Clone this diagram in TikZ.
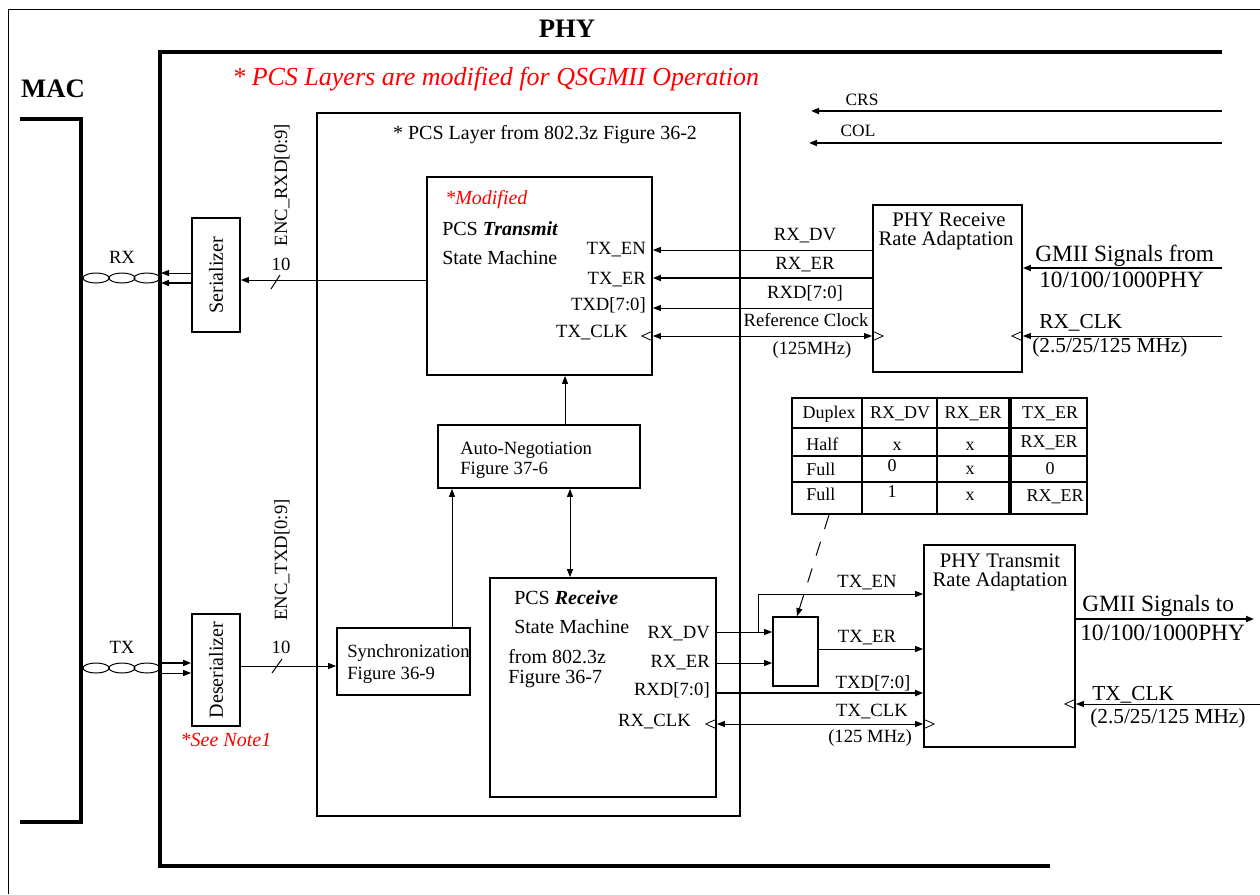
\documentclass[tikz,border=0pt]{standalone}
\usepackage{fontspec}
\setmainfont{Liberation Serif}
\usetikzlibrary{arrows.meta,fit,calc}
\newcommand\fsz[1]{\fontsize{#1}{#1}\selectfont}
\definecolor{notered}{RGB}{255,0,0}
\begin{document}
\begin{tikzpicture}[x=0.75pt,y=-0.75pt,
  box/.style={draw,line width=1.3pt,inner sep=0pt},
  tipS/.style={-{Triangle[length=6pt,width=4.5pt]}},
  arr/.style={tipS,line width=0.75pt},
  arrb/.style={tipS,line width=1.3pt},
  darr/.style={{Triangle[length=6pt,width=4.5pt]}-{Triangle[length=6pt,width=4.5pt]},line width=0.75pt},
  lb/.style={inner sep=0pt,font=\fsz{14}},
  lbt/.style={inner sep=0pt,font=\fsz{15}},
  lbr/.style={inner sep=0pt,font=\fsz{15.5}},
  lbg/.style={inner sep=0pt,font=\fsz{17.5}},
  lbc/.style={inner sep=0pt,font=\fsz{16}},
  red/.style={text=notered,font=\fsz{15}\itshape},
  heavy/.style={line width=3pt},
  grid/.style={line width=1.4pt},
  clkL/.pic={\draw[line width=0.6pt] (0,-5) -- (-11,0) -- (0,5);},
  clkR/.pic={\draw[line width=0.6pt] (0,-5) -- (11,0) -- (0,5);}
]
\useasboundingbox (0,0) rectangle (1260,894);
% outer frame
\draw[line width=0.75pt] (8,894) -- (8,9) -- (1260,9);
% PHY frame
\node[inner sep=0pt,font=\fsz{20}\bfseries] (phy) at (567,29) {PHY};
\draw[heavy] (1222,52) -- (160,52) -- (160,866) -- (1050,866);
% MAC
\node[inner sep=0pt,font=\fsz{20}\bfseries] (mac) at (53,89) {MAC};
\draw[heavy] (20,119) -- (81,119) -- (81,822) -- (20,822);
% red title
\node[inner sep=0pt,anchor=west,text=notered,font=\fsz{19.5}\itshape] (title) at (232,79) {* PCS Layers are modified for QSGMII Operation};
% CRS / COL
\coordinate (crsR) at (1222,111); \coordinate (crsL) at (811,111);
\coordinate (colR) at (1222,143); \coordinate (colL) at (809,143);
\draw[arrb] (crsR) -- (crsL);
\draw[arrb] (colR) -- (colL);
\node[inner sep=0pt,font=\fsz{13}] (crs) at (862,100) {CRS};
\node[inner sep=0pt,font=\fsz{13}] (col) at (858,131) {COL};
% boxes
\node[box,fit={(317,113)(740,816)}] (pcs) {};
\node[box,fit={(427,177)(652,375)}] (txsm) {};
\node[box,fit={(873,205)(1022,372)}] (rra) {};
\node[box,fit={(192,218)(240,332)}] (ser) {};
\node[box,fit={(192,614)(240,726)}] (des) {};
\node[box,fit={(337,628)(470,695)}] (sync) {};
\node[box,fit={(438,425)(640,488)}] (an) {};
\node[box,fit={(490,578)(716,797)}] (rxsm) {};
\node[box,fit={(773,617)(818,686)}] (mux) {};
\node[box,fit={(924,545)(1075,747)}] (tra) {};
% box texts
\node[lbt] (pcst) at (545,135) {* PCS Layer from 802.3z Figure 36-2};
\node[red,inner sep=0pt,anchor=west] (modf) at (445,200) {*Modified};
\node[lbt,anchor=west] (txt1) at (442,229) {PCS \textbf{\textit{Transmit}}};
\node[lbt,anchor=west] (txt2) at (442,258) {State Machine};
\node[lb,anchor=east] (txen) at (646,250) {TX\_EN};
\node[lb,anchor=east] (txer) at (646,280) {TX\_ER};
\node[lb,anchor=east] (txd) at (646,305) {TXD[7:0]};
\node[lb,anchor=east] (txclk) at (628,333) {TX\_CLK};
\node[lbr] (rra1) at (949,220) {PHY Receive};
\node[lbr] (rra2) at (946,241) {Rate Adaptation};
\node[lbt,rotate=90] (sert) at (ser.center) {Serializer};
\node[lbt,rotate=90] (dest) at (des.center) {Deserializer};
\node[red,inner sep=0pt] (note) at (226,740) {*See Note1};
\node[lb,anchor=west] (sy1) at (347,653) {Synchronization};
\node[lb,anchor=west] (sy2) at (347,675) {Figure 36-9};
\node[lb,anchor=west] (an1) at (460,450) {Auto-Negotiation};
\node[lb,anchor=west] (an2) at (460,470) {Figure 37-6};
\node[lbt,anchor=west] (rx1) at (514,598) {PCS \textbf{\textit{Receive}}};
\node[lbt,anchor=west] (rx2) at (514,627) {State Machine};
\node[lbt,anchor=west] (rx3) at (508,657) {from 802.3z};
\node[lbt,anchor=west] (rx4) at (508,679) {Figure 36-7};
\node[lb,anchor=east] (rxdv) at (710,634) {RX\_DV};
\node[lb,anchor=east] (rxer) at (710,663) {RX\_ER};
\node[lb,anchor=east] (rxd) at (710,690) {RXD[7:0]};
\node[lb,anchor=east] (rxclk) at (691,722) {RX\_CLK};
\node[lbr] (tra1) at (1000,561) {PHY Transmit};
\node[lbr] (tra2) at (1000,582) {Rate Adaptation};
% levels
\coordinate (yEN) at (0,250); \coordinate (yER) at (0,278);
\coordinate (yTD) at (0,308); \coordinate (yCK) at (0,336);
\coordinate (yS) at (0,280); \coordinate (yR1) at (0,273); \coordinate (yR2) at (0,283);
\coordinate (yT1) at (0,663); \coordinate (yT2) at (0,673); \coordinate (yD) at (0,666);
\coordinate (phyL) at (161,0);
% transmit side connectors
\draw[arr] (rra.west |- yEN) -- (txsm.east |- yEN);
\draw[arrb] (rra.west |- yER) -- (txsm.east |- yER);
\draw[arr] (rra.west |- yTD) -- (txsm.east |- yTD);
\draw[darr] (txsm.east |- yCK) -- (rra.west |- yCK);
\pic at (txsm.east |- yCK) {clkL};
\pic at (rra.west |- yCK) {clkR};
\node[lb] (l1) at (805,236) {RX\_DV};
\node[lb] (l2) at (805,265) {RX\_ER};
\node[lb] (l3) at (805,293) {RXD[7:0]};
\node[lb] (l4) at (806,320) {Reference Clock};
\node[lb] (l5) at (812,350) {(125MHz)};
% GMII from
\coordinate (gfR) at (1222,268); \coordinate (rcR) at (1222,336);
\draw[arrb] (gfR) -- (rra.east |- gfR);
\draw[arr] (rcR) -- (rra.east |- rcR);
\pic at (rra.east |- rcR) {clkL};
\node[lbg,anchor=west] (gf1) at (1035,256) {GMII Signals from};
\node[lbg,anchor=west] (gf2) at (1039,280) {10/100/1000PHY};
\node[lbc,anchor=west] (rc1) at (1039,323) {RX\_CLK};
\node[lbc,anchor=west] (rc2) at (1032,347) {(2.5/25/125 MHz)};
% serializer
\draw[arr] (txsm.west |- yS) -- (ser.east |- yS);
\draw[line width=0.75pt] (271,289) -- (280,275);
\node[lb] (n10a) at (281,264) {10};
\node[lb,rotate=90] (encr) at (282,185) {ENC\_RXD[0:9]};
\draw[arr] (ser.west |- yR1) -- (phyL |- yR1);
\draw[arrb] (ser.west |- yR2) -- (phyL |- yR2);
\foreach \cx in {96,122,147} \draw[line width=0.75pt] (\cx,278) ellipse [x radius=13, y radius=5];
\node[lb] (rxl) at (122,257) {RX};
% deserializer
\draw[arrb] (phyL |- yT1) -- (des.west |- yT1);
\draw[arr] (phyL |- yT2) -- (des.west |- yT2);
\foreach \cx in {96,122,147} \draw[line width=0.75pt] (\cx,668) ellipse [x radius=13, y radius=5];
\node[lb] (txl) at (122,647) {TX};
\draw[arr] (des.east |- yD) -- (sync.west |- yD);
\draw[line width=0.75pt] (272,673) -- (282,659);
\node[lb] (n10b) at (281,647) {10};
\node[lb,rotate=90] (enct) at (282,560) {ENC\_TXD[0:9]};
% auto-negotiation connectors
\coordinate (xA) at (565,0); \coordinate (xB) at (452,0); \coordinate (xC) at (570,0);
\draw[arr] (an.north -| xA) -- (txsm.south -| xA);
\draw[arr] (sync.north -| xB) -- (an.south -| xB);
\draw[darr] (an.south -| xC) -- (rxsm.north -| xC);
% receive side connectors
\coordinate (yDV) at (0,632); \coordinate (yRE) at (0,663);
\coordinate (yTEN) at (0,594); \coordinate (yTER) at (0,649);
\coordinate (yTXD) at (0,693); \coordinate (yTCK) at (0,724);
\coordinate (br) at (758,632);
\draw[arr] (rxsm.east |- yDV) -- (mux.west |- yDV);
\draw[arr] (br) |- (tra.west |- yTEN);
\draw[arr] (rxsm.east |- yRE) -- (mux.west |- yRE);
\draw[arr] (mux.east |- yTER) -- (tra.west |- yTER);
\draw[arrb] (rxsm.east |- yTXD) -- (tra.west |- yTXD);
\draw[darr] (rxsm.east |- yTCK) -- (tra.west |- yTCK);
\pic at (rxsm.east |- yTCK) {clkL};
\pic at (tra.west |- yTCK) {clkR};
\node[lb] (m1) at (867,583) {TX\_EN};
\node[lb] (m2) at (867,638) {TX\_ER};
\node[lb] (m3) at (873,683) {TXD[7:0]};
\node[lb] (m4) at (872,712) {TX\_CLK};
\node[lb] (m5) at (870,738) {(125 MHz)};
% GMII to
\coordinate (gtR) at (1254,619); \coordinate (tcR) at (1260,704);
\draw[arrb] (tra.east |- gtR) -- (gtR);
\draw[arr] (tcR) -- (tra.east |- tcR);
\pic at (tra.east |- tcR) {clkL};
\node[lbg,anchor=west] (gt1) at (1082,606) {GMII Signals to};
\node[lbg,anchor=west] (gt2) at (1080,633) {10/100/1000PHY};
\node[lbc,anchor=west] (tc1) at (1092,695) {TX\_CLK};
\node[lbc,anchor=west] (tc2) at (1090,718) {(2.5/25/125 MHz)};
% table
\node[draw,line width=2pt,inner sep=0pt,fit={(792,398)(1087,514)}] (tbl) {};
\draw[grid] (862,398) -- (862,514);
\draw[grid] (937,398) -- (937,514);
\draw[line width=2.4pt] (1010,398) -- (1010,514);
\draw[grid] (792,428) -- (1087,428);
\draw[grid] (792,456) -- (1087,456);
\draw[grid] (792,482) -- (1087,482);
\node[inner sep=0pt,font=\fsz{13.5}] (h1) at (829,414) {Duplex};
\node[inner sep=0pt,font=\fsz{13.5}] (h2) at (900,414) {RX\_DV};
\node[inner sep=0pt,font=\fsz{13.5}] (h3) at (973,414) {RX\_ER};
\node[inner sep=0pt,font=\fsz{13.5}] (h4) at (1050,414) {TX\_ER};
\node[inner sep=0pt,font=\fsz{13.5},anchor=west] (r1a) at (806,444) {Half};
\node[inner sep=0pt,font=\fsz{13.5}] (r1b) at (897,446) {x};
\node[inner sep=0pt,font=\fsz{13.5}] (r1c) at (970,446) {x};
\node[inner sep=0pt,font=\fsz{13.5}] (r1d) at (1049,443) {RX\_ER};
\node[inner sep=0pt,font=\fsz{13.5},anchor=west] (r2a) at (806,469) {Full};
\node[inner sep=0pt,font=\fsz{13.5}] (r2b) at (892,466) {0};
\node[inner sep=0pt,font=\fsz{13.5}] (r2c) at (970,470) {x};
\node[inner sep=0pt,font=\fsz{13.5}] (r2d) at (1050,469) {0};
\node[inner sep=0pt,font=\fsz{13.5},anchor=west] (r3a) at (806,494) {Full};
\node[inner sep=0pt,font=\fsz{13.5}] (r3b) at (892,492) {1};
\node[inner sep=0pt,font=\fsz{13.5}] (r3c) at (970,496) {x};
\node[inner sep=0pt,font=\fsz{13.5}] (r3d) at (1055,497) {RX\_ER};
% dashed pointer
\coordinate (dA) at (829,515);
\draw[arr,dash pattern=on 11pt off 10pt] (dA) -- (mux.north -| 797,0);
\end{tikzpicture}
\end{document}
